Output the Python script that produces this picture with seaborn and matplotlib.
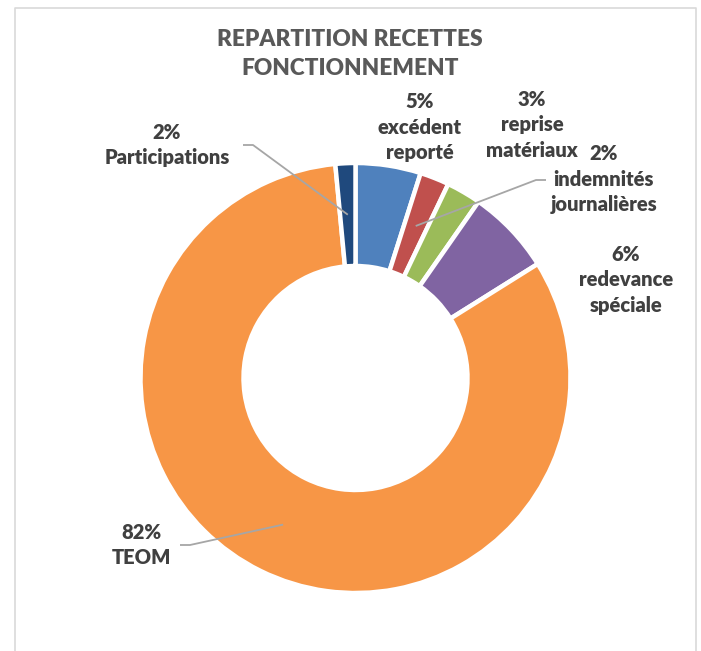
import numpy as np
import matplotlib.pyplot as plt
import seaborn as sns

# ── données ─────────────────────────────────────────────
CATEGORIES = ["excédent\nreporté", "indemnités\njournalières", "reprise\nmatériaux",
              "redevance\nspéciale", "TEOM", "Participations"]
VALUES = [4.9, 2.2, 2.6, 6.4, 82.4, 1.5]
COLORS = ["#4F81BD", "#C0504D", "#9BBB59", "#8064A2", "#F79646", "#1F497D"]
TITLE = "REPARTITION RECETTES\nFONCTIONNEMENT"

sns.set_theme(style="white")
plt.rcParams["font.family"] = ["Lato", "DejaVu Sans"]

W, H = 701, 651
fig = plt.figure(figsize=(W / 100, H / 100), dpi=100)
ax = fig.add_axes([0, 0, 1, 1])

def Y(y):
    return H - y

CX, CY, R, R_IN = 355.5, 378, 215, 112
wedges, _ = ax.pie(
    VALUES,
    colors=sns.color_palette(COLORS),
    startangle=90,
    counterclock=False,
    center=(CX, Y(CY)),
    radius=R,
    wedgeprops=dict(width=R - R_IN, edgecolor="white", linewidth=3.2),
)
ax.set_xlim(0, W)
ax.set_ylim(0, H)
ax.set_aspect("auto")
ax.axis("off")

total = sum(VALUES)
pcts = [f"{int(v / total * 100 + 0.5)}%" for v in VALUES]

LABEL_COLOR = "#404040"
LINE_COLOR = "#A6A6A6"
# positions des étiquettes (centre, pixels) et points de départ des traits
label_pos = {
    0: (420, 127, None),
    1: (604, 179, (546, 180)),
    2: (532, 125, None),
    3: (626, 280, None),
    4: (141, 545, (180, 545)),
    5: (167, 145, (243, 145)),
}
for i, (lx, ly, start) in label_pos.items():
    ax.text(lx, Y(ly), f"{pcts[i]}\n{CATEGORIES[i]}", ha="center", va="center",
            fontsize=14.5, fontweight="heavy", color=LABEL_COLOR, linespacing=1.38)
    if start is not None:
        w = wedges[i]
        mid = np.deg2rad((w.theta1 + w.theta2) / 2)
        r_mid = (R + R_IN) / 2
        ax_x = CX + r_mid * np.cos(mid)
        ax_y = Y(CY) + r_mid * np.sin(mid)
        sx, sy = start
        step = 10 if ax_x > sx else -10
        ax.plot([sx, sx + step, ax_x], [Y(sy), Y(sy), ax_y],
                color=LINE_COLOR, linewidth=1.3, solid_capstyle="butt")

ax.text(350, Y(54), TITLE, ha="center", va="center", fontsize=16.3,
        fontweight="heavy", color="#595959", linespacing=1.45)

# cadre du graphique
ax.plot([14.5, 14.5, 695.5, 695.5], [0, Y(8), Y(8), 0], color="#D9D9D9",
        linewidth=1.2, clip_on=False)

fig.savefig("out.png", dpi=100)
